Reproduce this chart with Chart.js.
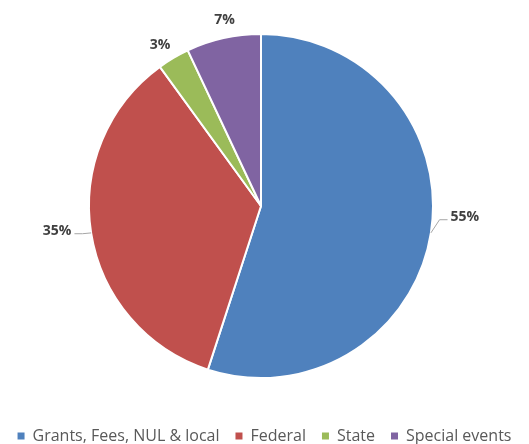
<!DOCTYPE html>
<html>
<head>
<meta charset="utf-8">
<script src="https://cdn.jsdelivr.net/npm/chart.js@4.4.1/dist/chart.umd.min.js"></script>
<style>
  html, body { margin: 0; padding: 0; background: #fff; }
  #wrap { width: 529px; height: 444px; }
</style>
</head>
<body>
<div id="wrap"><canvas id="fundingChart"></canvas></div>
<script>
const categories = ['Grants, Fees, NUL & local', 'Federal', 'State', 'Special events'];
const shares = [55, 35, 3, 7];
const sliceColors = ['#4f81bd', '#c0504d', '#9bbb59', '#8064a2'];

// the pie sits a little left of the legend's centre in the original
const shiftPie = {
  id: 'shiftPie',
  afterLayout(chart, args, opts) {
    chart.chartArea.left += opts.dx;
    chart.chartArea.right += opts.dx;
  }
};

// percent labels outside the pie, with a thin leader line when the label sits away from its slice
const pieLabels = {
  id: 'pieLabels',
  afterDatasetsDraw(chart, args, opts) {
    const ctx = chart.ctx;
    const meta = chart.getDatasetMeta(0);
    ctx.save();
    ctx.font = 'bold 14px "Open Sans"';
    ctx.textAlign = 'center';
    ctx.textBaseline = 'middle';
    meta.data.forEach((arc, i) => {
      const mid = (arc.startAngle + arc.endAngle) / 2;
      const cos = Math.cos(mid), sin = Math.sin(mid);
      const r = arc.outerRadius;
      const text = shares[i] + '%';
      const w = ctx.measureText(text).width;
      const h = 12;
      const nudge = opts.nudge[i] || [0, 0];
      const cx = arc.x + cos * (r + 12) + cos * w / 2 + nudge[0];
      const cy = arc.y + sin * (r + 12) + sin * h / 2 + nudge[1];
      const ex = arc.x + cos * r, ey = arc.y + sin * r;
      if (Math.hypot(nudge[0], nudge[1]) > 8) {
        const side = cos > 0 ? 1 : -1;
        const tx = cx - side * (w / 2 + 3);
        const ty = cy + 3;
        ctx.strokeStyle = '#a6a6a6';
        ctx.lineWidth = 1;
        ctx.beginPath();
        ctx.moveTo(ex, ey);
        ctx.lineTo(tx - side * 8, ty);
        ctx.lineTo(tx, ty);
        ctx.stroke();
      }
      ctx.fillStyle = '#404040';
      ctx.fillText(text, cx, cy);
    });
    ctx.restore();
  }
};

new Chart(document.getElementById('fundingChart'), {
  type: 'pie',
  data: {
    labels: categories,
    datasets: [{
      data: shares,
      backgroundColor: sliceColors,
      borderColor: '#ffffff',
      borderWidth: 2,
      radius: 172
    }]
  },
  options: {
    responsive: true,
    maintainAspectRatio: false,
    animation: false,
    layout: {
      padding: { top: -2, bottom: -10, left: 0, right: 0 }
    },
    plugins: {
      legend: {
        position: 'bottom',
        labels: {
          boxWidth: 7,
          boxHeight: 7,
          padding: 16,
          color: '#595959',
          font: { family: '"Open Sans"', size: 16 },
          generateLabels: (chart) => {
            return Chart.overrides.pie.plugins.legend.labels.generateLabels(chart)
              .map(item => ({ ...item, lineWidth: 0 }));
          }
        }
      },
      tooltip: { enabled: false },
      shiftPie: { dx: -3.5 },
      pieLabels: {
        nudge: [[8, -19], [-8, -5], [-2, 3], [6, -1]]
      }
    }
  },
  plugins: [shiftPie, pieLabels]
});
</script>
</body>
</html>
